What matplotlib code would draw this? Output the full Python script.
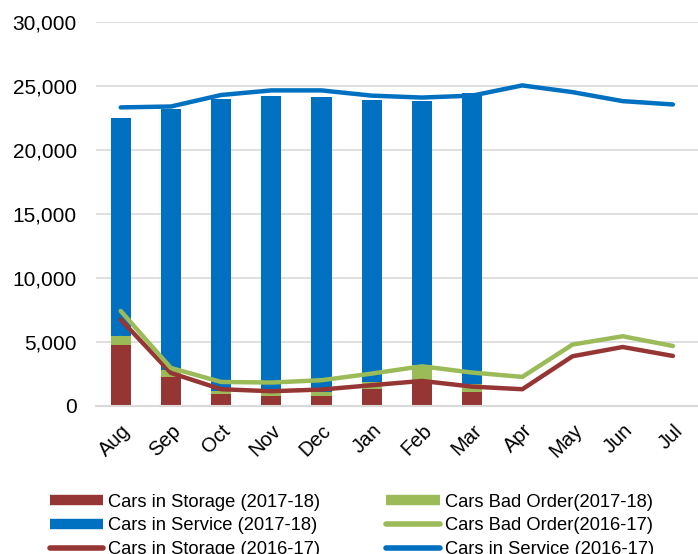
import matplotlib
matplotlib.use("Agg")
import matplotlib.pyplot as plt
import numpy as np
from matplotlib.lines import Line2D

plt.rcParams['font.family'] = ['Liberation Sans', 'DejaVu Sans']

months = ["Aug", "Sep", "Oct", "Nov", "Dec", "Jan", "Feb", "Mar", "Apr", "May", "Jun", "Jul"]

# 2017-18 (bars, Aug-Mar)
storage_1718 = [4770, 2240, 880, 780, 780, 1330, 1980, 1065]
badorder_1718 = [650, 550, 260, 210, 240, 500, 1170, 600]
service_1718 = [17100, 20435, 22867, 23220, 23110, 22100, 20650, 22815]

# 2016-17 (lines, Aug-Jul)
storage_1617 = [6725, 2550, 1275, 1120, 1250, 1590, 1925, 1480, 1275, 3855, 4580, 3880]
badorder_1617 = [7400, 2940, 1845, 1800, 1980, 2500, 3070, 2580, 2240, 4770, 5420, 4660]
service_1617 = [23330, 23400, 24300, 24660, 24660, 24250, 24100, 24250, 25050, 24525, 23820, 23560]

c_red = "#963634"
c_green = "#9BBB59"
c_blue = "#0070C0"

fig = plt.figure(figsize=(6.98, 5.54), dpi=100)
ax = fig.add_axes([0.137, 0.268, 0.863, 0.692])

x = np.arange(len(months))
xb = x[:len(storage_1718)]
w = 0.4
s = np.array(storage_1718)
b = np.array(badorder_1718)
sv = np.array(service_1718)
ax.bar(xb, s, width=w, color=c_red, zorder=2)
ax.bar(xb, b, width=w, bottom=s, color=c_green, zorder=2)
ax.bar(xb, sv, width=w, bottom=s + b, color=c_blue, zorder=2)

lw = 3.2
ax.plot(x, storage_1617, color=c_red, lw=lw, solid_capstyle='round', solid_joinstyle='round', zorder=3)
ax.plot(x, badorder_1617, color=c_green, lw=lw, solid_capstyle='round', solid_joinstyle='round', zorder=3)
ax.plot(x, service_1617, color=c_blue, lw=lw, solid_capstyle='round', solid_joinstyle='round', zorder=3)

ax.set_xlim(-0.5, len(months) - 0.5)
ax.set_ylim(0, 30000)
ax.set_yticks(np.arange(0, 30001, 5000))
ax.set_yticklabels([f"{v:,}" for v in range(0, 30001, 5000)], fontsize=15)
ax.set_xticks(x)
ax.set_xticklabels(months, rotation=45, fontsize=14.5, ha='right', rotation_mode='anchor')
ax.tick_params(axis='both', length=0, colors='#000000')
ax.tick_params(axis='y', pad=13.5)
ax.tick_params(axis='x', pad=11)
ax.grid(axis='y', color='#d9d9d9', lw=1.2, zorder=0)
ax.set_axisbelow(True)
for sp in ['top', 'right', 'left']:
    ax.spines[sp].set_visible(False)
ax.spines['bottom'].set_color('#d9d9d9')
ax.spines['bottom'].set_linewidth(1.5)

handles = [
    Line2D([], [], color=c_red, lw=7.5, solid_capstyle='butt'),
    Line2D([], [], color=c_blue, lw=7.5, solid_capstyle='butt'),
    Line2D([], [], color=c_red, lw=4, solid_capstyle='round'),
    Line2D([], [], color=c_green, lw=7.5, solid_capstyle='butt'),
    Line2D([], [], color=c_green, lw=4, solid_capstyle='round'),
    Line2D([], [], color=c_blue, lw=4, solid_capstyle='round'),
]
labels = ["Cars in Storage (2017-18)", "Cars in Service (2017-18)", "Cars in Storage (2016-17)",
          "Cars Bad Order(2017-18)", "Cars Bad Order(2016-17)", "Cars in Service (2016-17)"]
fig.legend(handles, labels, ncol=2, loc='upper left', bbox_to_anchor=(0.0716, 0.109),
           frameon=False, fontsize=13.2, handlelength=2.9, handletextpad=0.28,
           columnspacing=3.6, labelspacing=0.37, borderaxespad=0, borderpad=0)

fig.savefig("out.png", dpi=100)
